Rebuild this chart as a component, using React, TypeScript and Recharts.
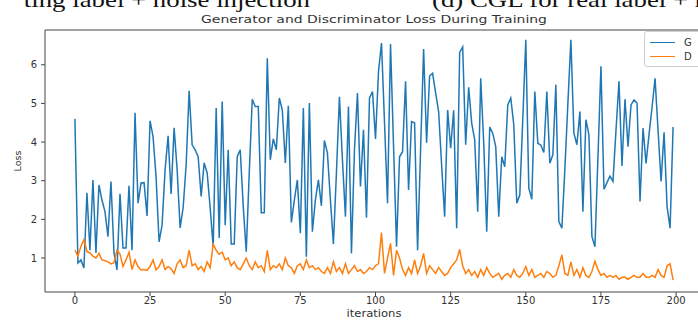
import React from 'react';
import { LineChart, Line, XAxis, YAxis, Legend, ReferenceLine } from 'recharts';

const G_LOSS = [
  4.6, 0.87, 0.95, 0.74, 2.69, 1.2, 3.02, 1.13, 2.89, 2.5,
  2.2, 1.55, 2.98, 1.13, 0.69, 2.66, 1.26, 1.26, 2.87, 1.2,
  4.76, 2.42, 2.94, 2.95, 2.09, 4.55, 4.14, 3.1, 1.42, 1.85,
  3.28, 4.16, 2.66, 4.37, 3.3, 1.78, 2.3, 3.4, 5.33, 3.93,
  3.8, 3.62, 2.59, 3.46, 3.2, 2.3, 1.29, 4.88, 1.52, 5.05,
  1.85, 3.8, 1.36, 1.36, 3.62, 3.8, 2.33, 1.16, 3.2, 5.11,
  4.92, 4.92, 2.17, 2.17, 6.17, 3.54, 4.08, 3.8, 5.14, 4.83,
  3.46, 4.94, 1.92, 2.5, 3.02, 1.64, 4.88, 1.03, 5.01, 1.68,
  2.5, 3.02, 2.35, 4.04, 3.72, 2.5, 1.36, 3.2, 5.17, 3.54,
  2.07, 4.92, 1.12, 3.8, 5.27, 2.85, 4.32, 2.04, 5.14, 5.31,
  4.08, 5.83, 6.56, 4.5, 2.42, 6.54, 3.9, 1.29, 3.62, 3.75,
  5.57, 2.76, 4.53, 4.5, 1.2, 3.8, 6.41, 3.98, 5.71, 5.78,
  5.27, 4.79, 3.4, 2.07, 4.83, 3.84, 4.82, 1.77, 6.32, 6.46,
  3.93, 5.42, 4.49, 4.06, 2.2, 5.65, 3.98, 1.68, 4.39, 4.23,
  3.88, 2.07, 3.62, 3.36, 4.96, 5.14, 4.45, 2.42, 2.63, 4.6,
  6.65, 2.81, 2.52, 5.31, 3.97, 3.92, 3.73, 5.31, 3.45, 3.67,
  5.48, 1.94, 1.77, 3.3, 5.0, 6.65, 4.23, 3.93, 4.79, 2.2,
  4.58, 4.19, 1.55, 1.29, 3.6, 5.96, 2.78, 2.95, 3.12, 2.98,
  4.3, 5.57, 3.38, 5.11, 3.88, 4.96, 5.09, 5.01, 2.46, 4.36,
  3.45, 4.2, 4.9, 5.65, 4.3, 2.98, 4.25, 2.33, 1.77, 4.39,
];

const D_LOSS = [
  1.2, 1.05, 1.3, 1.47, 1.17, 1.13, 1.05, 1.0, 1.12, 0.95,
  0.93, 0.9, 0.85, 0.88, 1.2, 1.1, 0.78, 0.95, 1.15, 0.7,
  0.95, 0.78, 0.69, 0.7, 0.68, 0.78, 0.95, 0.69, 0.78, 0.95,
  0.7, 0.78, 0.72, 0.6, 0.85, 0.95, 0.75, 0.8, 1.2, 0.8,
  0.85, 0.7, 0.78, 0.65, 0.9, 0.75, 1.36, 1.2, 1.1, 1.15,
  0.95, 1.0, 0.8, 0.9, 0.75, 0.7, 0.85, 1.0, 0.8, 0.7,
  0.9, 0.75, 0.8, 0.65, 1.2, 0.7, 0.8, 0.75, 0.85, 0.7,
  1.0, 0.8, 0.75, 0.6, 0.8, 0.85, 0.7, 0.95, 0.75, 0.8,
  0.7, 0.75, 0.65, 0.6, 0.75, 0.6, 0.9, 0.65, 0.75, 0.6,
  0.85, 0.6, 0.7, 0.8, 0.65, 0.7, 0.6, 0.65, 0.75, 0.7,
  0.8, 0.85, 1.66, 0.6, 1.0, 1.38, 0.55, 1.2, 1.0, 0.7,
  0.55, 0.75, 0.6, 0.95, 0.6, 0.8, 1.12, 0.6, 0.8, 0.7,
  0.6, 0.75, 0.65, 0.55, 0.6, 0.75, 0.85, 0.95, 1.22, 0.8,
  0.6, 0.7, 0.55, 0.65, 0.5, 0.7, 0.55, 0.75, 0.6, 0.5,
  0.55, 0.6, 0.45, 0.55, 0.6, 0.5, 0.7, 0.55, 0.5, 0.6,
  0.78, 0.55, 0.7, 0.5, 0.55, 0.6, 0.5, 0.65, 0.6, 0.5,
  0.55, 0.8, 1.08, 0.6, 0.55, 0.9, 0.55, 0.7, 0.5, 0.75,
  0.55, 0.5, 0.65, 0.92, 0.7, 0.55, 0.6, 0.5, 0.55, 0.5,
  0.55, 0.45, 0.5, 0.5, 0.45, 0.5, 0.55, 0.5, 0.5, 0.6,
  0.5, 0.5, 0.55, 0.5, 0.7, 0.55, 0.5, 0.8, 0.85, 0.43,
];

const X_TICKS = [0, 25, 50, 75, 100, 125, 150, 175, 200];
const Y_TICKS = [1, 2, 3, 4, 5, 6];
const X_DOMAIN = [-9.95, 208.95];
const Y_DOMAIN = [0.12, 6.9];

const SERIES = [
  { key: 'G', name: 'G', color: '#1f77b4' },
  { key: 'D', name: 'D', color: '#ff7f0e' },
];

const TITLE = 'Generator and Discriminator Loss During Training';
const X_LABEL = 'iterations';
const Y_LABEL = 'Loss';
const CAPTION_LEFT = 'ting label + noise injection';
const CAPTION_RIGHT = '(d) CGL for real label + noise injection';

const data = G_LOSS.map((g, i) => ({ iter: i, G: g, D: D_LOSS[i] }));

const FONT = 'DejaVu Sans, sans-serif';
const SERIF = 'Liberation Serif, serif';
const STRETCH = 1.22;

const LegendBox = () => (
  <div
    style={{
      border: '1px solid #d0d0d0',
      borderRadius: 3,
      background: 'rgba(255,255,255,0.85)',
      padding: '3px 5px',
      width: 58,
      fontFamily: FONT,
      fontSize: 10,
      color: '#333',
      boxSizing: 'border-box',
    }}
  >
    {SERIES.map((s) => (
      <div key={s.key} style={{ display: 'flex', alignItems: 'center', height: 14 }}>
        <span
          style={{
            display: 'inline-block',
            width: 25,
            height: 0,
            borderTop: `1.5px solid ${s.color}`,
            marginRight: 9,
          }}
        />
        <span>{s.name}</span>
      </div>
    ))}
  </div>
);

export default function App() {
  return (
    <div
      style={{
        position: 'absolute',
        left: 0,
        top: 0,
        width: 698,
        height: 322,
        overflow: 'hidden',
        background: '#fff',
      }}
    >
      <svg style={{ position: 'absolute', left: 0, top: 0 }} width={698} height={322}>
        <g transform={`scale(${STRETCH},1)`}>
          <text x={310 / STRETCH} y={7} textAnchor="end" fontFamily={SERIF} fontSize={22} fill="#111">
            {CAPTION_LEFT}
          </text>
          <text x={432 / STRETCH} y={7} fontFamily={SERIF} fontSize={22} fill="#111">
            {CAPTION_RIGHT}
          </text>
        </g>
        <text
          x={374}
          y={23}
          textAnchor="middle"
          fontFamily={FONT}
          fontSize={11}
          fill="#333"
          textLength={346}
          lengthAdjust="spacingAndGlyphs"
        >
          {TITLE}
        </text>
        <text
          x={374}
          y={317}
          textAnchor="middle"
          fontFamily={FONT}
          fontSize={10}
          fill="#333"
          textLength={55}
          lengthAdjust="spacingAndGlyphs"
        >
          {X_LABEL}
        </text>
        <text
          transform="translate(21,161) rotate(-90)"
          textAnchor="middle"
          fontFamily={FONT}
          fontSize={9.5}
          fill="#333"
        >
          {Y_LABEL}
        </text>
      </svg>
      <div style={{ position: 'absolute', left: 0, top: 0 }}>
        <LineChart width={710} height={322} data={data} margin={{ top: 30, right: 7, bottom: 0, left: 0 }}>
          <XAxis
            dataKey="iter"
            type="number"
            domain={X_DOMAIN}
            ticks={X_TICKS}
            allowDataOverflow
            height={30}
            tickSize={4}
            tickMargin={1}
            stroke="#444"
            tick={{ fontSize: 10, fill: '#333', fontFamily: FONT }}
          />
          <YAxis
            type="number"
            domain={Y_DOMAIN}
            ticks={Y_TICKS}
            allowDataOverflow
            width={45}
            tickSize={4}
            tickMargin={4}
            stroke="#444"
            tick={{ fontSize: 10, fill: '#333', fontFamily: FONT }}
          />
          <ReferenceLine y={Y_DOMAIN[1]} stroke="#444" />
          {SERIES.map((s) => (
            <Line
              key={s.key}
              dataKey={s.key}
              name={s.name}
              type="linear"
              stroke={s.color}
              strokeWidth={1.5}
              dot={false}
              isAnimationActive={false}
            />
          ))}
          <Legend
            layout="vertical"
            align="center"
            verticalAlign="middle"
            content={<LegendBox />}
            wrapperStyle={{ left: 644, top: 31, width: 60, height: 34 }}
          />
        </LineChart>
      </div>
    </div>
  );
}
